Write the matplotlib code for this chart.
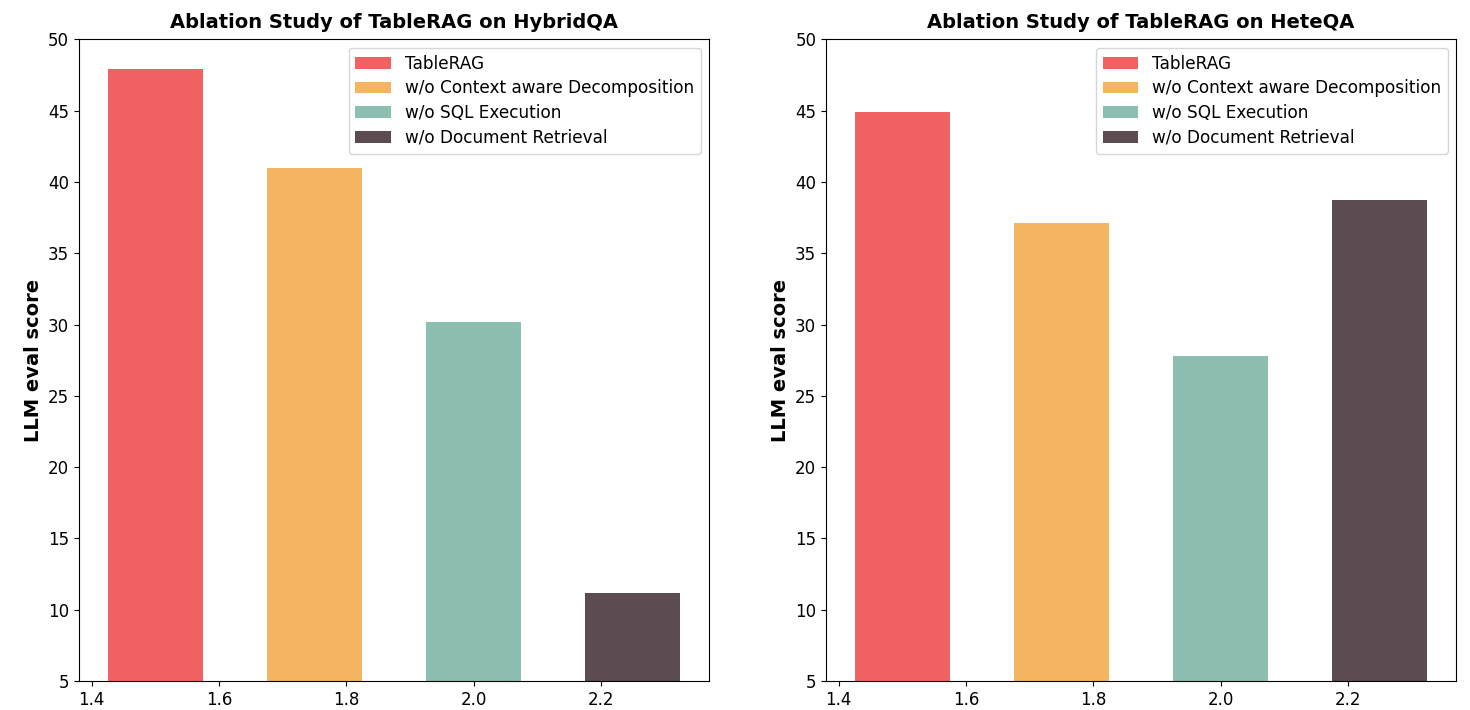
import matplotlib
matplotlib.use("Agg")
import matplotlib.pyplot as plt

# ablation variants and scores (LLM eval)
variants = ["TableRAG", "w/o Context aware Decomposition", "w/o SQL Execution", "w/o Document Retrieval"]
colors = ["#F06262", "#F3B562", "#8CBEB2", "#5C4B51"]
positions = [1.5, 1.75, 2.0, 2.25]
hybridqa_scores = [47.9, 41.0, 30.2, 11.2]
heteqa_scores = [44.9, 37.1, 27.8, 38.7]

datasets = ["HybridQA", "HeteQA"]
scores = [hybridqa_scores, heteqa_scores]

fig, axes = plt.subplots(1, 2, figsize=(14.7, 7.1), dpi=100)
fig.subplots_adjust(left=0.0537, right=0.9905, top=0.9446, bottom=0.0408, wspace=0.1857)

for ax, name, vals in zip(axes, datasets, scores):
    for x, v, c, lab in zip(positions, vals, colors, variants):
        ax.bar(x, v, width=0.15, color=c, label=lab)
    ax.set_ylim(5, 50)
    ax.set_title(f"Ablation Study of TableRAG on {name}", fontsize=14, fontweight="bold", pad=8)
    ax.set_ylabel("LLM eval score", fontsize=14, fontweight="bold")
    ax.tick_params(labelsize=12)
    ax.legend(loc="upper right", fontsize=12.2, labelspacing=0.4, handlelength=2.1)

fig.savefig("out.png", dpi=100, facecolor="white")
